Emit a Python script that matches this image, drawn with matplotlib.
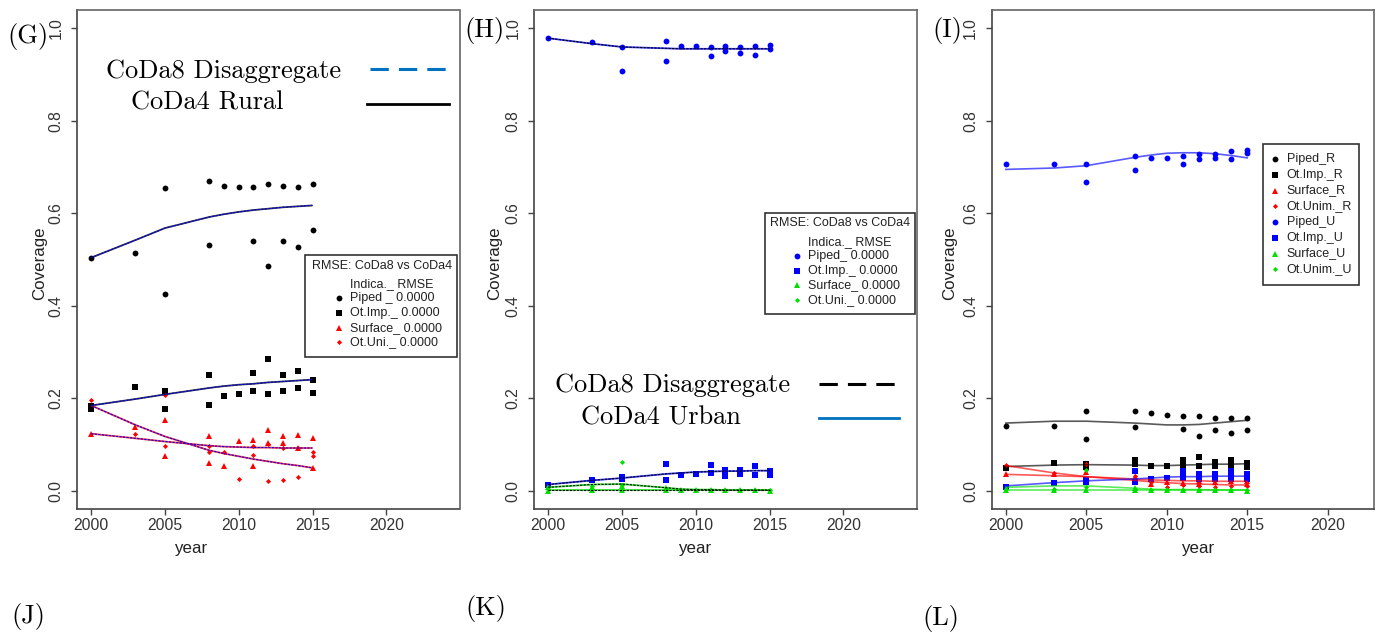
import matplotlib
matplotlib.use("Agg")
import matplotlib.pyplot as plt
from matplotlib.patches import Rectangle

# ------------------------------------------------------------------ data
line_years = [2000, 2003, 2005, 2008, 2009, 2010, 2011, 2012, 2013, 2014, 2015]
xticks = [2000, 2005, 2010, 2015, 2020]
yticks = [0.0, 0.2, 0.4, 0.6, 0.8, 1.0]
ytick_labels = ["0.0", "0.2", "0.4", "0.6", "0.8", "1.0"]

# Panel G (rural)
g_piped_x = [2000, 2003, 2005, 2005, 2008, 2008, 2009, 2010, 2011, 2011, 2012, 2012, 2013, 2013, 2014, 2014, 2015, 2015]
g_piped_y = [0.504, 0.514, 0.654, 0.426, 0.670, 0.532, 0.659, 0.656, 0.656, 0.539, 0.664, 0.485, 0.659, 0.539, 0.656, 0.527, 0.664, 0.563]
g_otimp_x = [2000, 2000, 2003, 2005, 2005, 2008, 2008, 2009, 2010, 2011, 2011, 2012, 2012, 2013, 2013, 2014, 2014, 2015, 2015]
g_otimp_y = [0.177, 0.182, 0.225, 0.216, 0.177, 0.250, 0.185, 0.204, 0.209, 0.255, 0.216, 0.284, 0.209, 0.250, 0.216, 0.259, 0.221, 0.240, 0.211]
g_surf_x = [2000, 2003, 2005, 2005, 2008, 2008, 2009, 2010, 2011, 2011, 2012, 2012, 2013, 2013, 2014, 2014, 2015, 2015]
g_surf_y = [0.123, 0.138, 0.153, 0.074, 0.119, 0.060, 0.052, 0.108, 0.110, 0.052, 0.131, 0.102, 0.118, 0.102, 0.121, 0.092, 0.113, 0.048]
g_otuni_x = [2000, 2003, 2005, 2005, 2008, 2008, 2009, 2010, 2011, 2011, 2012, 2012, 2013, 2013, 2014, 2014, 2015, 2015]
g_otuni_y = [0.196, 0.123, 0.207, 0.096, 0.097, 0.084, 0.083, 0.024, 0.096, 0.077, 0.101, 0.021, 0.091, 0.022, 0.092, 0.030, 0.083, 0.074]
g_piped_line = [0.504, 0.542, 0.568, 0.592, 0.598, 0.603, 0.607, 0.610, 0.613, 0.615, 0.617]
g_otimp_line = [0.184, 0.198, 0.208, 0.222, 0.226, 0.229, 0.231, 0.234, 0.236, 0.238, 0.240]
g_surf_line = [0.123, 0.113, 0.106, 0.097, 0.095, 0.094, 0.093, 0.093, 0.092, 0.092, 0.092]
g_otuni_line = [0.184, 0.142, 0.117, 0.087, 0.080, 0.074, 0.068, 0.063, 0.058, 0.054, 0.049]

# Panel H (urban)
h_piped_x = [2000, 2003, 2005, 2005, 2008, 2008, 2009, 2010, 2011, 2011, 2012, 2012, 2013, 2013, 2014, 2014, 2015, 2015]
h_piped_y = [0.979, 0.970, 0.960, 0.908, 0.973, 0.929, 0.962, 0.962, 0.960, 0.940, 0.962, 0.951, 0.960, 0.948, 0.962, 0.943, 0.965, 0.956]
h_otimp_x = [2000, 2003, 2005, 2005, 2008, 2008, 2009, 2010, 2011, 2011, 2012, 2012, 2012, 2013, 2013, 2014, 2014, 2015, 2015]
h_otimp_y = [0.011, 0.023, 0.030, 0.025, 0.057, 0.023, 0.033, 0.036, 0.056, 0.037, 0.045, 0.039, 0.032, 0.044, 0.036, 0.053, 0.033, 0.042, 0.034]
h_surf_x = [2000, 2000, 2003, 2003, 2005, 2005, 2008, 2008, 2009, 2010, 2011, 2012, 2013, 2014, 2015]
h_surf_y = [0.007, 0.000, 0.008, 0.001, 0.009, 0.001, 0.006, 0.001, 0.001, 0.001, 0.001, 0.001, 0.001, 0.001, 0.000]
h_otuni_x = [2000, 2003, 2005, 2005, 2008, 2009, 2010, 2011, 2012, 2013, 2014, 2015]
h_otuni_y = [0.004, 0.010, 0.061, 0.012, 0.004, 0.002, 0.002, 0.002, 0.001, 0.001, 0.001, 0.001]
h_piped_line = [0.979, 0.967, 0.960, 0.957, 0.956, 0.956, 0.956, 0.956, 0.956, 0.956, 0.956]
h_otimp_line = [0.013, 0.022, 0.027, 0.036, 0.038, 0.040, 0.041, 0.042, 0.042, 0.043, 0.043]
h_surf_line = [0.001, 0.001, 0.001, 0.001, 0.001, 0.001, 0.001, 0.001, 0.001, 0.001, 0.001]
h_otuni_line = [0.007, 0.013, 0.014, 0.006, 0.003, 0.002, 0.002, 0.001, 0.001, 0.001, 0.001]

# Panel I (rural + urban)
i_piped_r_x = [2000, 2003, 2005, 2005, 2008, 2008, 2009, 2010, 2011, 2011, 2012, 2012, 2013, 2013, 2014, 2014, 2015, 2015]
i_piped_r_y = [0.139, 0.139, 0.172, 0.112, 0.172, 0.137, 0.167, 0.164, 0.161, 0.133, 0.161, 0.118, 0.158, 0.131, 0.156, 0.125, 0.156, 0.131]
i_otimp_r_x = [2000, 2003, 2005, 2005, 2008, 2008, 2009, 2010, 2011, 2011, 2011, 2012, 2012, 2013, 2013, 2014, 2014, 2015, 2015]
i_otimp_r_y = [0.049, 0.060, 0.057, 0.050, 0.065, 0.058, 0.053, 0.053, 0.065, 0.058, 0.053, 0.072, 0.054, 0.061, 0.053, 0.065, 0.053, 0.060, 0.051]
i_surf_r_x = [2000, 2003, 2005, 2008, 2008, 2009, 2010, 2011, 2012, 2012, 2013, 2014, 2015, 2015]
i_surf_r_y = [0.036, 0.036, 0.039, 0.030, 0.022, 0.014, 0.018, 0.016, 0.020, 0.015, 0.018, 0.020, 0.014, 0.020]
i_otunim_r_x = [2000, 2003, 2005, 2008, 2009, 2010, 2011, 2012, 2013, 2014, 2015]
i_otunim_r_y = [0.056, 0.038, 0.057, 0.032, 0.018, 0.007, 0.012, 0.010, 0.008, 0.010, 0.010]
i_piped_u_x = [2000, 2003, 2005, 2005, 2008, 2008, 2009, 2010, 2011, 2011, 2012, 2012, 2013, 2013, 2014, 2014, 2015, 2015]
i_piped_u_y = [0.706, 0.706, 0.706, 0.667, 0.724, 0.693, 0.720, 0.720, 0.724, 0.706, 0.728, 0.717, 0.728, 0.720, 0.734, 0.717, 0.737, 0.731]
i_otimp_u_x = [2000, 2003, 2005, 2005, 2008, 2008, 2009, 2010, 2011, 2011, 2011, 2012, 2012, 2013, 2013, 2014, 2014, 2014, 2015, 2015]
i_otimp_u_y = [0.008, 0.017, 0.022, 0.018, 0.043, 0.018, 0.024, 0.027, 0.043, 0.035, 0.027, 0.036, 0.025, 0.036, 0.025, 0.043, 0.033, 0.025, 0.036, 0.025]
i_surf_u_x = [2000, 2003, 2005, 2008, 2008, 2009, 2010, 2011, 2012, 2013, 2014, 2015]
i_surf_u_y = [0.001, 0.001, 0.001, 0.005, 0.001, 0.001, 0.001, 0.001, 0.001, 0.001, 0.001, 0.000]
i_otunim_u_x = [2000, 2003, 2005, 2005, 2008, 2009, 2010, 2011, 2012, 2013, 2014, 2015]
i_otunim_u_y = [0.004, 0.003, 0.045, 0.008, 0.003, 0.002, 0.002, 0.002, 0.002, 0.002, 0.002, 0.002]
i_piped_u_line = [0.695, 0.698, 0.703, 0.721, 0.726, 0.730, 0.731, 0.731, 0.729, 0.725, 0.720]
i_piped_r_line = [0.146, 0.150, 0.150, 0.146, 0.144, 0.142, 0.142, 0.143, 0.146, 0.149, 0.152]
i_otimp_r_line = [0.052, 0.055, 0.056, 0.055, 0.054, 0.054, 0.055, 0.056, 0.057, 0.057, 0.058]
i_surf_r_line = [0.035, 0.032, 0.030, 0.025, 0.023, 0.022, 0.021, 0.021, 0.020, 0.020, 0.020]
i_otunim_r_line = [0.054, 0.038, 0.030, 0.022, 0.019, 0.017, 0.015, 0.014, 0.013, 0.012, 0.012]
i_otimp_u_line = [0.010, 0.017, 0.021, 0.025, 0.027, 0.029, 0.030, 0.030, 0.031, 0.031, 0.031]
i_surf_u_line = [0.001, 0.001, 0.001, 0.001, 0.001, 0.001, 0.001, 0.001, 0.001, 0.001, 0.001]
i_otunim_u_line = [0.007, 0.010, 0.010, 0.005, 0.003, 0.002, 0.002, 0.002, 0.001, 0.001, 0.001]

rmse_rows_g = ["Piped _ 0.0000", "Ot.Imp._ 0.0000", "Surface_ 0.0000", "Ot.Uni._ 0.0000"]
rmse_rows_h = ["Piped_ 0.0000", "Ot.Imp._ 0.0000", "Surface_ 0.0000", "Ot.Uni._ 0.0000"]
i_legend_labels = ["Piped_R", "Ot.Imp._R", "Surface_R", "Ot.Unim._R",
                   "Piped_U", "Ot.Imp._U", "Surface_U", "Ot.Unim._U"]

# ------------------------------------------------------------------ style
W, H = 1381, 633
SANS = ["Liberation Sans", "DejaVu Sans"]
SERIF = ["cmr10", "DejaVu Serif"]
BLACK, RED, BLUE, GREEN = "#000000", "#ff0000", "#0000ff", "#00e000"
MK = {"circle": dict(marker="o", ms=4.2),
      "square": dict(marker="s", ms=4.6),
      "tri": dict(marker="^", ms=5.0),
      "dia": dict(marker="D", ms=2.6)}

fig = plt.figure(figsize=(W / 100, H / 100), dpi=100)


def make_axes(l, r, t, b, xmax):
    ax = fig.add_axes([l / W, 1 - b / H, (r - l) / W, (b - t) / H])
    span = xmax - 2000
    ax.set_xlim(2000 - 0.04 * span, xmax + 0.04 * span)
    ax.set_ylim(-0.04, 1.04)
    ax.set_xticks(xticks)
    ax.set_xticklabels([str(v) for v in xticks])
    ax.set_yticks(yticks)
    ax.set_yticklabels(ytick_labels)
    ax.tick_params(axis="both", direction="out", length=4.3, width=1.0,
                   color="#444444", labelcolor="#333333", labelsize=11.3)
    ax.tick_params(axis="x", pad=2.5)
    ax.tick_params(axis="y", pad=5.5, labelrotation=90)
    for lab in ax.get_yticklabels():
        lab.set_va("center")
        lab.set_family(SANS)
    for lab in ax.get_xticklabels():
        lab.set_family(SANS)
    for s in ax.spines.values():
        s.set_color("#666666")
        s.set_linewidth(1.2)
    ax.spines["left"].set_color("#444444")
    ax.spines["bottom"].set_color("#444444")
    return ax


def pts(ax, x, y, color, kind):
    ax.plot(x, y, linestyle="none", color=color, mec=color, mew=0, zorder=3, **MK[kind])


def pair_line(ax, y, color, dash_color):
    ax.plot(line_years, y, color=color, lw=1.3, alpha=0.8, zorder=4, solid_capstyle="butt")
    ax.plot(line_years, y, color=dash_color, lw=0.8, ls=(0, (2.0, 1.2)), zorder=5)


axG = make_axes(77, 459.5, 10, 509, 2024)
axH = make_axes(534, 916.7, 10, 509, 2024)
axI = make_axes(991.7, 1374, 10, 509, 2022)

# ---- G
pts(axG, g_piped_x, g_piped_y, BLACK, "circle")
pts(axG, g_otimp_x, g_otimp_y, BLACK, "square")
pts(axG, g_surf_x, g_surf_y, RED, "tri")
pts(axG, g_otuni_x, g_otuni_y, RED, "dia")
pair_line(axG, g_piped_line, BLACK, BLUE)
pair_line(axG, g_otimp_line, BLACK, BLUE)
pair_line(axG, g_surf_line, RED, BLUE)
pair_line(axG, g_otuni_line, RED, BLUE)

# ---- H
pts(axH, h_piped_x, h_piped_y, BLUE, "circle")
pts(axH, h_otimp_x, h_otimp_y, BLUE, "square")
pts(axH, h_surf_x, h_surf_y, GREEN, "tri")
pts(axH, h_otuni_x, h_otuni_y, GREEN, "dia")
pair_line(axH, h_piped_line, BLUE, BLACK)
pair_line(axH, h_otimp_line, BLUE, BLACK)
pair_line(axH, h_surf_line, GREEN, BLACK)
pair_line(axH, h_otuni_line, GREEN, BLACK)

# ---- I
for x, y, c, k in [(i_piped_r_x, i_piped_r_y, BLACK, "circle"),
                   (i_otimp_r_x, i_otimp_r_y, BLACK, "square"),
                   (i_surf_r_x, i_surf_r_y, RED, "tri"),
                   (i_otunim_r_x, i_otunim_r_y, RED, "dia"),
                   (i_piped_u_x, i_piped_u_y, BLUE, "circle"),
                   (i_otimp_u_x, i_otimp_u_y, BLUE, "square"),
                   (i_surf_u_x, i_surf_u_y, GREEN, "tri"),
                   (i_otunim_u_x, i_otunim_u_y, GREEN, "dia")]:
    pts(axI, x, y, c, k)
for y, c in [(i_piped_r_line, BLACK), (i_otimp_r_line, BLACK), (i_surf_r_line, RED),
             (i_otunim_r_line, RED), (i_piped_u_line, BLUE), (i_otimp_u_line, BLUE),
             (i_surf_u_line, GREEN), (i_otunim_u_line, GREEN)]:
    axI.plot(line_years, y, color=c, lw=1.2, alpha=0.65, zorder=4)

# ------------------------------------------------------------------ overlay (pixel coords)
ov = fig.add_axes([0, 0, 1, 1])
ov.set_xlim(0, W)
ov.set_ylim(H, 0)
ov.axis("off")
ov.patch.set_visible(False)

# axis titles
for cx in (40, 494.5, 949.5):
    ov.text(cx, 263, "Coverage", rotation=90, ha="center", va="center",
            fontsize=12.2, family=SANS, color="#222222")
for cx in (191, 695, 1198):
    ov.text(cx, 549, "year", ha="center", va="center", fontsize=12.2,
            family=SANS, color="#222222")

# panel letters
for (cx, cy, s) in [(28.5, 36, "(G)"), (485, 30, "(H)"), (947, 30, "(I)"),
                    (28, 617, "(J)"), (486, 608, "(K)"), (941, 618, "(L)")]:
    ov.text(cx, cy, s, ha="center", va="center", fontsize=19, family=SERIF)

# line-style keys
ov.text(106, 71, "CoDa8 Disaggregate", ha="left", va="center", fontsize=19, family=SERIF)
ov.text(131, 103, "CoDa4 Rural", ha="left", va="center", fontsize=19, family=SERIF)
ov.plot([370, 450], [69, 69], color="#0070c0", lw=2.2, ls=(0, (6.0, 3.3)))
ov.plot([367, 449], [104, 104], color="black", lw=2.0)

ov.text(555, 385, "CoDa8 Disaggregate", ha="left", va="center", fontsize=19, family=SERIF)
ov.text(581, 418, "CoDa4 Urban", ha="left", va="center", fontsize=19, family=SERIF)
ov.plot([819, 899], [384, 384], color="black", lw=2.2, ls=(0, (6.0, 3.3)))
ov.plot([819, 899], [418, 418], color="#0070c0", lw=2.0)


def rmse_box(x0, y0, x1, y1, title_x, title_y, head_x, head_y, mk_x, txt_x, row_y,
             rows, colors):
    ov.add_patch(Rectangle((x0, y0), x1 - x0, y1 - y0, facecolor="white",
                           edgecolor="#333333", lw=1.2, zorder=6))
    ov.text(title_x, title_y, "RMSE: CoDa8 vs CoDa4", ha="left", va="center",
            fontsize=9, family=SANS, color="#222222", zorder=7)
    ov.text(head_x, head_y, "Indica._ RMSE", ha="left", va="center",
            fontsize=9, family=SANS, color="#222222", zorder=7)
    kinds = ["circle", "square", "tri", "dia"]
    for ry, r, c, k in zip(row_y, rows, colors, kinds):
        mk = dict(MK[k])
        ov.plot([mk_x], [ry], linestyle="none", color=c, mew=0, zorder=7, **mk)
        ov.text(txt_x, ry, r, ha="left", va="center", fontsize=9, family=SANS,
                color="#222222", zorder=7)


rmse_box(305, 255, 457, 357, 312, 266, 350, 284, 339, 350,
         [298, 313, 328, 342], rmse_rows_g, [BLACK, BLACK, RED, RED])
rmse_box(765, 213, 915, 314, 770, 223, 808, 242, 797, 808,
         [256, 270.7, 285, 300], rmse_rows_h, [BLUE, BLUE, GREEN, GREEN])

# legend I
ov.add_patch(Rectangle((1263.3, 144), 96, 141, facecolor="white",
                       edgecolor="#333333", lw=1.2, zorder=6))
i_colors = [BLACK, BLACK, RED, RED, BLUE, BLUE, GREEN, GREEN]
i_kinds = ["circle", "square", "tri", "dia"] * 2
for j, (lab, c, k) in enumerate(zip(i_legend_labels, i_colors, i_kinds)):
    ry = 159 + j * 15.75
    mk = dict(MK[k])
    ov.plot([1275.3], [ry], linestyle="none", color=c, mew=0, zorder=7, **mk)
    ov.text(1286.7, ry, lab, ha="left", va="center", fontsize=9, family=SANS,
            color="#222222", zorder=7)

fig.savefig("out.png", dpi=100)
